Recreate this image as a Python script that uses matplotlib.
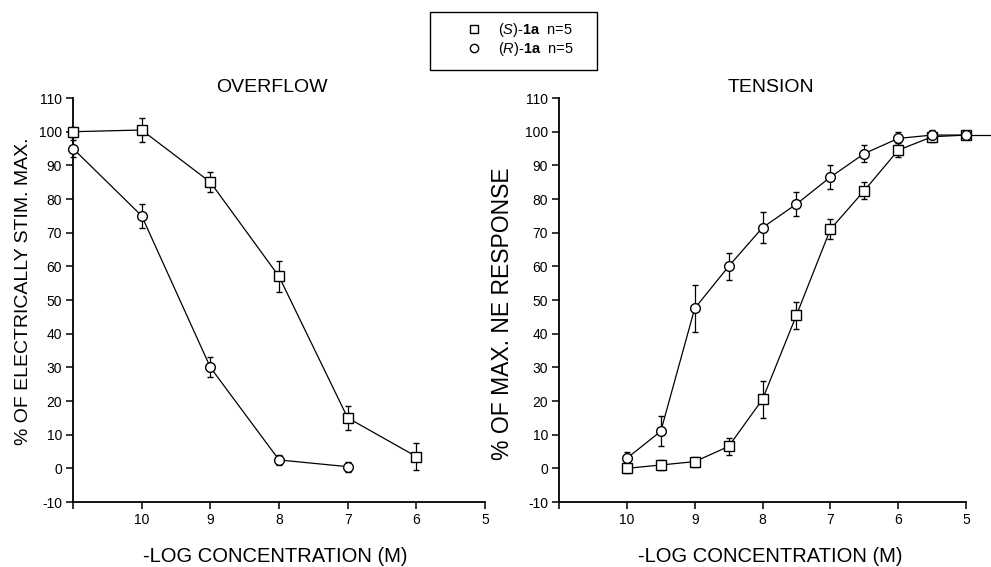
import numpy as np
import matplotlib
matplotlib.use('Agg')
import matplotlib.pyplot as plt
from matplotlib.patches import Rectangle
from matplotlib.lines import Line2D

plt.rcParams['font.family'] = ['Liberation Sans', 'DejaVu Sans']
plt.rcParams['axes.unicode_minus'] = False
plt.rcParams['mathtext.fontset'] = 'custom'
plt.rcParams['mathtext.rm'] = 'Liberation Sans'
plt.rcParams['mathtext.it'] = 'Liberation Sans:italic'
plt.rcParams['mathtext.bf'] = 'Liberation Sans:bold'

# datos (-log conc, % respuesta, error)
ov_s_x = [11, 10, 9, 8, 7, 6]
ov_s_y = [100, 100.5, 85, 57, 15, 3.5]
ov_s_e = [1.5, 3.5, 3, 4.5, 3.5, 4]

ov_r_x = [11, 10, 9, 8, 7]
ov_r_y = [95, 75, 30, 2.5, 0.5]
ov_r_e = [2.5, 3.5, 3, 1.5, 1.5]

te_x = [10, 9.5, 9, 8.5, 8, 7.5, 7, 6.5, 6, 5.5, 5]
te_s_y = [0, 1, 2, 6.5, 20.5, 45.5, 71, 82.5, 94.5, 98.5, 99]
te_s_e = [1.5, 1.5, 1.5, 2.5, 5.5, 4, 3, 2.5, 2, 1.5, 1]
te_r_y = [3, 11, 47.5, 60, 71.5, 78.5, 86.5, 93.5, 98, 99, 99]
te_r_e = [2, 4.5, 7, 4, 4.5, 3.5, 3.5, 2.5, 2, 1.5, 1]

tail_x = [5, 4.65]
tail_y = [99, 99]

xticks = [11, 10, 9, 8, 7, 6, 5]
xticklabels = ['', '10', '9', '8', '7', '6', '5']
yticks = list(range(-10, 111, 10))

leg_s = r'($\mathit{S}$)-$\mathbf{1a}$  n=5'
leg_r = r'($\mathit{R}$)-$\mathbf{1a}$  n=5'

fig = plt.figure(figsize=(9.91, 5.67), dpi=100)
ax1 = fig.add_axes([0.0737, 0.1146, 0.4157, 0.7125])
ax2 = fig.add_axes([0.5641, 0.1146, 0.4107, 0.7125])

def serie(ax, x, y, e, marker):
    ax.errorbar(x, y, yerr=e, fmt='-', color='black', lw=0.9, elinewidth=0.9,
                capsize=2.5, capthick=0.9, marker=marker, ms=7, mfc='white',
                mec='black', mew=1.0, clip_on=False, zorder=3)

serie(ax1, ov_s_x, ov_s_y, ov_s_e, 's')
serie(ax1, ov_r_x, ov_r_y, ov_r_e, 'o')
serie(ax2, te_x, te_s_y, te_s_e, 's')
serie(ax2, te_x, te_r_y, te_r_e, 'o')
ax2.plot(tail_x, tail_y, color='black', lw=0.9, clip_on=False, zorder=2)

for ax in (ax1, ax2):
    ax.set_xlim(11, 5)
    ax.set_ylim(-10, 110)
    ax.set_xticks(xticks)
    ax.set_xticklabels(xticklabels)
    ax.set_yticks(yticks)
    ax.spines['top'].set_visible(False)
    ax.spines['right'].set_visible(False)
    ax.spines['left'].set_linewidth(1.3)
    ax.spines['bottom'].set_linewidth(1.3)
    ax.tick_params(direction='out', length=5, width=1.1, labelsize=10, pad=3)

fig.text(0.274, 0.846, 'OVERFLOW', ha='center', va='center', fontsize=14)
fig.text(0.778, 0.846, 'TENSION', ha='center', va='center', fontsize=14)
fig.text(0.024, 0.487, '% OF ELECTRICALLY STIM. MAX.', rotation=90,
         ha='center', va='center', fontsize=14)
fig.text(0.507, 0.446, '% OF MAX. NE RESPONSE', rotation=90,
         ha='center', va='center', fontsize=16.5)
fig.text(0.278, 0.018, '-LOG CONCENTRATION (M)', ha='center', va='center', fontsize=14.5)
fig.text(0.777, 0.018, '-LOG CONCENTRATION (M)', ha='center', va='center', fontsize=14.5)

# leyenda
h_s = Line2D([], [], ls='none', marker='s', ms=6, mfc='white', mec='black', mew=1)
h_r = Line2D([], [], ls='none', marker='o', ms=6, mfc='white', mec='black', mew=1)
fig.legend([h_s, h_r], [leg_s, leg_r], loc='center', bbox_to_anchor=(0.525, 0.930),
           frameon=False, fontsize=10.5, handlelength=1.0, handletextpad=1.2,
           labelspacing=0.1)
fig.add_artist(Rectangle((430 / 991, 1 - 70 / 567), 167 / 991, 58 / 567,
                         transform=fig.transFigure, fill=False, lw=1.0, ec='black'))

fig.savefig('out.png', dpi=100)
